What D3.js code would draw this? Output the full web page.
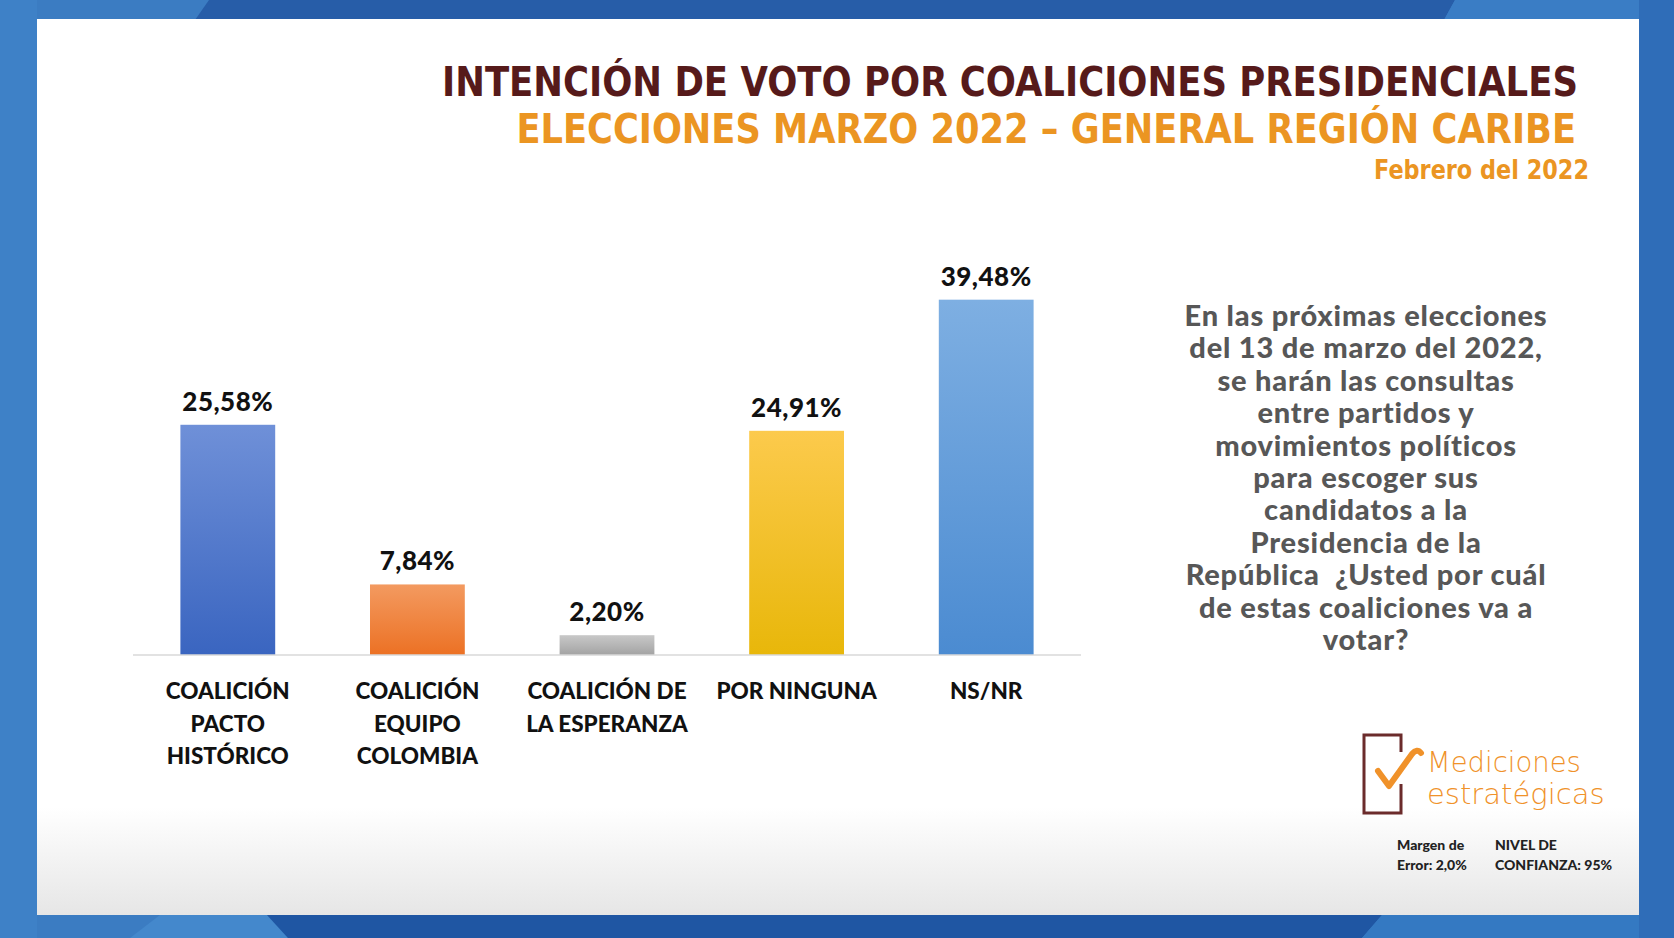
<!DOCTYPE html>
<html>
<head>
<meta charset="utf-8">
<script src="https://cdn.jsdelivr.net/npm/d3@7"></script>
<style>
  html, body { margin: 0; padding: 0; background: #3b7cc2; }
  svg { display: block; }
</style>
</head>
<body>
<svg id="chart"></svg>
<script>
//======
// Data
//======

var categories = [
  ["COALICIÓN", "PACTO", "HISTÓRICO"],
  ["COALICIÓN", "EQUIPO", "COLOMBIA"],
  ["COALICIÓN DE", "LA ESPERANZA"],
  ["POR NINGUNA"],
  ["NS/NR"]
];
var values = [25.58, 7.84, 2.20, 24.91, 39.48];

var titleLines = [
  "INTENCIÓN DE VOTO POR COALICIONES PRESIDENCIALES",
  "ELECCIONES MARZO 2022 – GENERAL REGIÓN CARIBE",
  "Febrero del 2022"
];

var questionLines = [
  "En las próximas elecciones",
  "del 13 de marzo del 2022,",
  "se harán las consultas",
  "entre partidos y",
  "movimientos políticos",
  "para escoger sus",
  "candidatos a la",
  "Presidencia de la",
  "República  ¿Usted por cuál",
  "de estas coaliciones va a",
  "votar?"
];

var footLeft = ["Margen de", "Error: 2,0%"];
var footRight = ["NIVEL DE", "CONFIANZA: 95%"];
var logoLines = ["Mediciones", "estratégicas"];

// bar gradient colours (top, bottom)
var barColors = [
  ["#6f90d8", "#3a65c0"],
  ["#f39a60", "#ec7124"],
  ["#c8c8c8", "#a3a3a3"],
  ["#fcca4c", "#e8b70a"],
  ["#7eafe2", "#4b8bd1"]
];

//=========
// Drawing
//=========

var W = 1674, H = 938;
var svg = d3.select("#chart").attr("width", W).attr("height", H);
var defs = svg.append("defs");

// squeeze a text horizontally so it fills a given width, pinned at anchorX
function fitWidth(sel, width, anchorX) {
  sel.each(function() {
    var w = this.getComputedTextLength();
    var k = Math.min(1, width / w);
    d3.select(this).attr("transform",
      "translate(" + anchorX + ",0) scale(" + k + ",1) translate(" + (-anchorX) + ",0)");
  });
}

// background frame
svg.append("rect").attr("width", W).attr("height", H).attr("fill", "#3b7cc2");
svg.append("polygon").attr("points", "209,0 1455,0 1444,20 195,20").attr("fill", "#275da8");
svg.append("polygon").attr("points", "1455,0 1674,0 1674,20 1444,20").attr("fill", "#3a7dc5");
svg.append("rect").attr("x", 1639).attr("y", 0).attr("width", 35).attr("height", H).attr("fill", "#2f6db8");
svg.append("rect").attr("x", 0).attr("y", 0).attr("width", 37).attr("height", H).attr("fill", "#3e81c7");
svg.append("polygon").attr("points", "160,915 267,915 288,938 130,938").attr("fill", "#4488cc");
svg.append("polygon").attr("points", "267,915 1382,915 1362,938 288,938").attr("fill", "#1f56a3");
svg.append("polygon").attr("points", "1382,915 1639,915 1639,938 1362,938").attr("fill", "#3479c2");

// white panel with soft bottom shading
var pg = defs.append("linearGradient").attr("id", "panelGrad")
  .attr("x1", 0).attr("y1", 0).attr("x2", 0).attr("y2", 1);
pg.append("stop").attr("offset", "0.88").attr("stop-color", "#ffffff");
pg.append("stop").attr("offset", "1").attr("stop-color", "#e6e6e6");
svg.append("rect").attr("x", 37).attr("y", 19).attr("width", 1602).attr("height", 896)
  .attr("fill", "url(#panelGrad)");

// titles
var condensed = "'Liberation Sans Narrow', 'DejaVu Sans Condensed', 'Roboto', sans-serif";
svg.append("text").text(titleLines[0])
  .attr("x", 1578).attr("y", 96).attr("text-anchor", "end")
  .style("font-family", condensed).style("font-weight", "bold").style("font-size", "41px")
  .attr("fill", "#561a1a")
  .call(fitWidth, 1136, 1578);
svg.append("text").text(titleLines[1])
  .attr("x", 1576).attr("y", 143).attr("text-anchor", "end")
  .style("font-family", condensed).style("font-weight", "bold").style("font-size", "40.5px")
  .attr("fill", "#eb9522")
  .call(fitWidth, 1060, 1576);
svg.append("text").text(titleLines[2])
  .attr("x", 1589).attr("y", 179).attr("text-anchor", "end")
  .style("font-family", condensed).style("font-weight", "bold").style("font-size", "27px")
  .attr("fill", "#eb9522")
  .call(fitWidth, 215, 1589);

// scales
var x = d3.scaleBand()
  .domain(d3.range(values.length))
  .range([133, 1081])
  .paddingInner(0.5)
  .paddingOuter(0.25);

var y = d3.scaleLinear()
  .domain([0, 40])
  .range([655, 295]);

var fmt = function(v) { return d3.format(".2f")(v).replace(".", ",") + "%"; };

// gradients for bars
barColors.forEach(function(c, i) {
  var g = defs.append("linearGradient").attr("id", "bar" + i)
    .attr("x1", 0).attr("y1", 0).attr("x2", 0).attr("y2", 1);
  g.append("stop").attr("offset", "0").attr("stop-color", c[0]);
  g.append("stop").attr("offset", "1").attr("stop-color", c[1]);
});

var chart = svg.append("g");

chart.selectAll("rect.bar")
  .data(values)
  .enter()
  .append("rect")
  .attr("class", "bar")
  .attr("x", function(d, i) { return x(i); })
  .attr("y", function(d) { return y(d); })
  .attr("width", x.bandwidth())
  .attr("height", function(d) { return y(0) - y(d); })
  .attr("fill", function(d, i) { return "url(#bar" + i + ")"; });

// baseline
chart.append("line")
  .attr("x1", 133).attr("x2", 1081)
  .attr("y1", y(0)).attr("y2", y(0))
  .attr("stroke", "#d9d9d9").attr("stroke-width", 1.5);

var labelFont = "Lato, 'Open Sans', sans-serif";

// value labels
chart.selectAll("text.value")
  .data(values)
  .enter()
  .append("text")
  .attr("class", "value")
  .attr("x", function(d, i) { return x(i) + x.bandwidth() / 2; })
  .attr("y", function(d) { return y(d) - 14; })
  .attr("text-anchor", "middle")
  .style("font-family", labelFont).style("font-weight", "900").style("font-size", "26px")
  .style("letter-spacing", "0.5px")
  .attr("fill", "#111")
  .text(fmt);

// category labels
var cat = chart.selectAll("text.cat")
  .data(categories)
  .enter()
  .append("text")
  .attr("class", "cat")
  .attr("x", function(d, i) { return x(i) + x.bandwidth() / 2; })
  .attr("y", 699)
  .attr("text-anchor", "middle")
  .style("font-family", labelFont).style("font-weight", "900").style("font-size", "22.5px")
  .attr("fill", "#111");

cat.selectAll("tspan")
  .data(function(d, i) { return d.map(function(s) { return { s: s, i: i }; }); })
  .enter()
  .append("tspan")
  .attr("x", function(d) { return x(d.i) + x.bandwidth() / 2; })
  .attr("dy", function(d, j) { return j === 0 ? 0 : 32.5; })
  .text(function(d) { return d.s; });

// question text
svg.append("g").selectAll("text")
  .data(questionLines)
  .enter()
  .append("text")
  .attr("x", 1366)
  .attr("y", function(d, i) { return 326 + i * 32.4; })
  .attr("text-anchor", "middle")
  .style("font-family", labelFont).style("font-weight", "900").style("font-size", "29px")
  .style("letter-spacing", "0.8px")
  .attr("fill", "#575757")
  .attr("xml:space", "preserve")
  .style("white-space", "pre")
  .text(function(d) { return d; });

// logo
var logo = svg.append("g");
logo.append("path")
  .attr("d", "M1401,752 L1401,735 L1364,735 L1364,813 L1401,813 L1401,784")
  .attr("fill", "none").attr("stroke", "#6b2b2b").attr("stroke-width", 3);
logo.append("path")
  .attr("d", "M1378,771 L1389,786 L1412,754 Q1417,748 1421,753")
  .attr("fill", "none").attr("stroke", "#f0922a").attr("stroke-width", 6)
  .attr("stroke-linecap", "round").attr("stroke-linejoin", "round");
logo.selectAll("text")
  .data(logoLines)
  .enter()
  .append("text")
  .attr("x", 1427)
  .attr("y", function(d, i) { return 772 + i * 32; })
  .style("font-family", "'DejaVu Sans', sans-serif")
  .style("font-weight", "200").style("font-size", "29px")
  .attr("fill", "#f0922a")
  .text(function(d) { return d; })
  .each(function(d, i) {
    d3.select(this).call(fitWidth, i === 0 ? 154 : 178, 1427);
  });

// footnotes
[footLeft, footRight].forEach(function(lines, k) {
  svg.append("g").selectAll("text")
    .data(lines)
    .enter()
    .append("text")
    .attr("x", k === 0 ? 1397 : 1495)
    .attr("y", function(d, i) { return 850 + i * 20; })
    .style("font-family", labelFont).style("font-weight", "900").style("font-size", "14px")
    .attr("fill", "#222")
    .text(function(d) { return d; });
});
</script>
</body>
</html>
